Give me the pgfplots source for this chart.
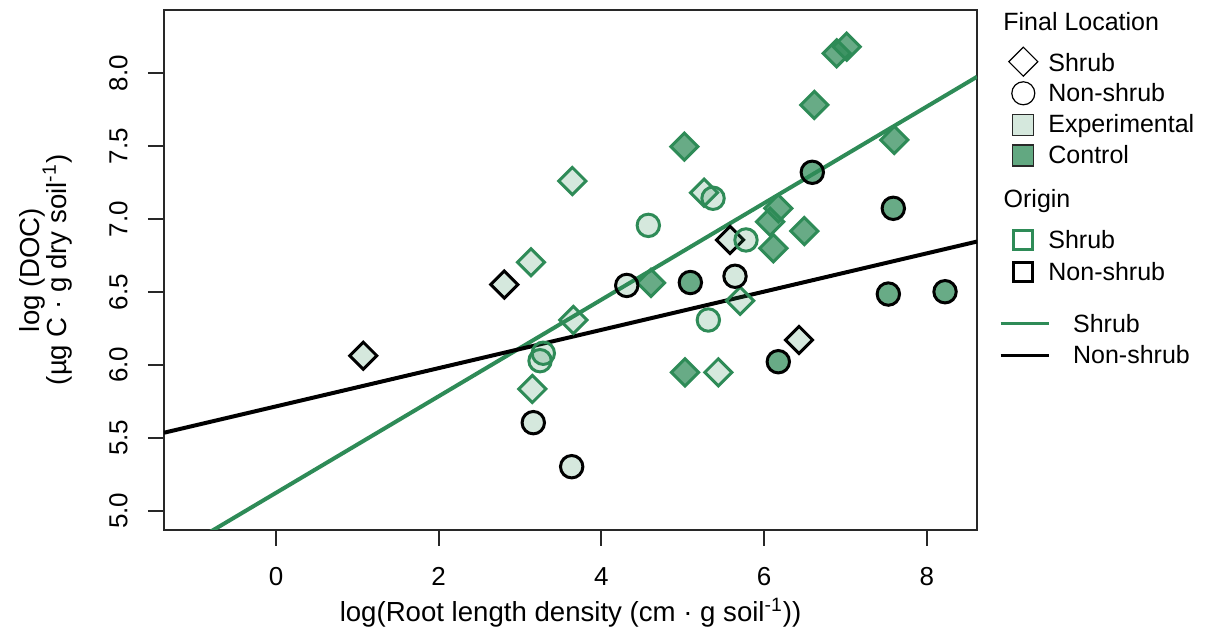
\documentclass[border=0pt]{standalone}
\usepackage{pgfplots}
\pgfplotsset{compat=1.18}
\usepackage{fontspec}
\setmainfont{Liberation Sans}
\definecolor{sg}{RGB}{46,139,87}
\definecolor{lightfill}{RGB}{213,232,221}
\definecolor{darkfill}{RGB}{98,168,129}
\definecolor{boxc}{RGB}{40,40,40}
\newcommand\lf{\fontsize{12.5}{13.5}\selectfont}
\newcommand\tf{\fontsize{13}{13.5}\selectfont}
\newcommand\af{\fontsize{13.8}{13.5}\selectfont}

\pgfplotstableread{
x y
3.135 6.704
3.151 5.835
3.643 7.261
3.655 6.308
5.262 7.181
5.438 5.949
5.705 6.440
}\dgl
\pgfplotstableread{
x y
4.610 6.563
5.020 7.497
5.028 5.949
6.074 6.982
6.114 6.800
6.175 7.074
6.495 6.918
6.618 7.783
6.893 8.137
7.016 8.182
7.601 7.543
}\dgd
\pgfplotstableread{
x y
1.073 6.063
2.807 6.551
5.582 6.857
6.430 6.171
}\dbl
\pgfplotstableread{
x y
3.246 6.029
3.286 6.080
4.577 6.957
5.315 6.308
5.373 7.143
5.778 6.857
}\cgl
\pgfplotstableread{
x y
3.163 5.604
3.635 5.302
4.312 6.545
5.643 6.608
}\cbl
\pgfplotstableread{
x y
5.094 6.565
6.175 6.022
6.593 7.321
7.528 6.486
7.589 7.074
8.225 6.502
}\cbd

\begin{document}
\begin{tikzpicture}
\useasboundingbox (0pt,0pt) rectangle (603pt,318pt);
\begin{axis}[
  at={(82pt,53pt)}, anchor=south west,
  scale only axis, width=406.5pt, height=260pt,
  xmin=-1.377, xmax=8.618, ymin=4.868, ymax=8.434,
  xtick={0,2,4,6,8}, ytick={5,5.5,6,6.5,7,7.5,8},
  /pgf/number format/assume math mode=true,
  yticklabel style={/pgf/number format/fixed, /pgf/number format/fixed zerofill, /pgf/number format/precision=1},
  tick pos=left, tick align=outside, major tick length=8pt,
  every tick/.style={boxc, line width=0.9pt},
  axis line style={boxc, line width=0.9pt},
  tick label style={font=\tf},
  xticklabel style={anchor=north, inner sep=0pt, yshift=-10.5pt},
  yticklabel style={xshift=-10pt, rotate=90, anchor=south, inner sep=0pt},
  every axis x label/.style={at={([yshift=-46pt]axis description cs:0.5,0)}, anchor=base, font=\af},
  every axis y label/.style={at={([xshift=-42.5pt]axis description cs:0,0.5)}, rotate=90, anchor=south, align=center, font=\af},
  xlabel={log(Root length density (cm · g soil\textsuperscript{-1}))},
  ylabel={log (DOC)\\(µg C · g dry soil\smash{\textsuperscript{-1}})},
]
\addplot[only marks, mark=square*, mark size=4.8pt, mark options={rotate=45, draw=sg, fill=sg, fill opacity=0.2, line width=1.5pt}] table {\dgl};
\addplot[only marks, mark=square*, mark size=4.8pt, mark options={rotate=45, draw=sg, fill=sg, fill opacity=0.72, line width=1.5pt}] table {\dgd};
\addplot[only marks, mark=square*, mark size=4.8pt, mark options={rotate=45, draw=black, fill=sg, fill opacity=0.2, line width=1.5pt}] table {\dbl};
\addplot[only marks, mark=*, mark size=5.6pt, mark options={draw=sg, fill=sg, fill opacity=0.2, line width=1.5pt}] table {\cgl};
\addplot[only marks, mark=*, mark size=5.6pt, mark options={draw=black, fill=sg, fill opacity=0.2, line width=1.5pt}] table {\cbl};
\addplot[only marks, mark=*, mark size=5.6pt, mark options={draw=black, fill=sg, fill opacity=0.72, line width=1.5pt}] table {\cbd};
\addplot[sg, line width=2pt] coordinates {(-1.377,4.667) (8.618,7.976)};
\addplot[black, line width=2pt] coordinates {(-1.377,5.535) (8.618,6.846)};
\end{axis}
% legend
\node[anchor=base west, inner sep=0pt, font=\lf] at (501.5pt,302.5pt) {Final Location};
\draw[black, line width=0.6pt, fill=white] (511.65pt,294.4pt) -- (518.9pt,287.15pt) -- (511.65pt,279.9pt) -- (504.4pt,287.15pt) -- cycle;
\node[anchor=base west, inner sep=0pt, font=\lf] at (524pt,282.15pt) {Shrub};
\draw[black, line width=0.6pt, fill=white] (511.65pt,271.35pt) circle (5.75pt);
\node[anchor=base west, inner sep=0pt, font=\lf] at (524pt,267.25pt) {Non-shrub};
\draw[boxc, line width=0.6pt, fill=lightfill] (506.4pt,250.25pt) rectangle (516.9pt,260.75pt);
\node[anchor=base west, inner sep=0pt, font=\lf] at (524pt,251.5pt) {Experimental};
\draw[boxc, line width=0.6pt, fill=darkfill] (506.4pt,235pt) rectangle (516.9pt,245.5pt);
\node[anchor=base west, inner sep=0pt, font=\lf] at (524pt,236pt) {Control};
\node[anchor=base west, inner sep=0pt, font=\lf] at (501.65pt,214pt) {Origin};
\draw[sg, line width=1.5pt, fill=white] (506.9pt,193.25pt) rectangle (516.4pt,202.75pt);
\node[anchor=base west, inner sep=0pt, font=\lf] at (524pt,193.5pt) {Shrub};
\draw[black, line width=1.5pt, fill=white] (506.9pt,177.4pt) rectangle (516.4pt,186.9pt);
\node[anchor=base west, inner sep=0pt, font=\lf] at (524pt,177.5pt) {Non-shrub};
\draw[sg, line width=1.5pt] (500.35pt,156.35pt) -- (524.65pt,156.35pt);
\node[anchor=base west, inner sep=0pt, font=\lf] at (536.35pt,151.5pt) {Shrub};
\draw[black, line width=1.5pt] (500.35pt,140pt) -- (524.65pt,140pt);
\node[anchor=base west, inner sep=0pt, font=\lf] at (536.35pt,136.25pt) {Non-shrub};
\end{tikzpicture}
\end{document}
